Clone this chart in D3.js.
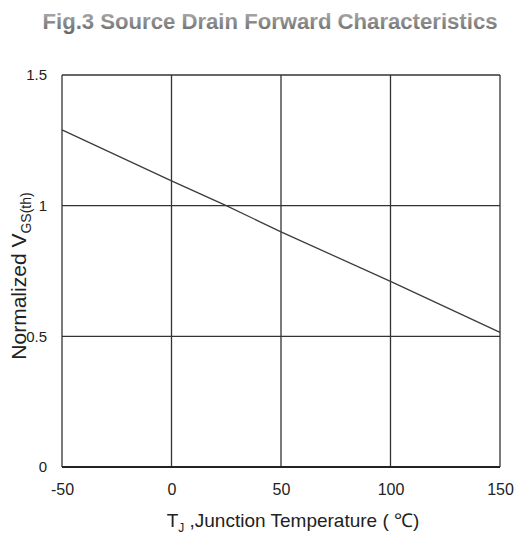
<!DOCTYPE html>
<html lang="en">
<head>
<meta charset="UTF-8">
<title>Fig.3 Source Drain Forward Characteristics</title>
<style>
  body { margin: 0; background: #fff; }
  svg { display: block; font-family: "Liberation Sans", Arial, sans-serif; }
  .grid line { stroke: #333; stroke-width: 1.3; }
  .tick text { fill: #222; font-size: 15px; }
  .xax .tick text { font-size: 16px; }
</style>
</head>
<body>
<svg width="514" height="534"></svg>
<script src="https://d3js.org/d3.v7.min.js"></script>
<script>
// data
var temps = [-50, 0, 25, 50, 100, 150];
var vgsNorm = [1.29, 1.095, 1.0, 0.90, 0.71, 0.515];
var xTicks = [-50, 0, 50, 100, 150];
var yTicks = [0, 0.5, 1, 1.5];

var svg = d3.select("svg"),
    margin = {top: 75, right: 14, bottom: 67, left: 62},
    width = 514 - margin.left - margin.right,
    height = 534 - margin.top - margin.bottom;

var defs = svg.append("defs");
var grad = defs.append("linearGradient")
    .attr("id", "titleGrad").attr("x1", 0).attr("y1", 0).attr("x2", 0).attr("y2", 1);
grad.append("stop").attr("offset", "0%").attr("stop-color", "#b4b4b4");
grad.append("stop").attr("offset", "100%").attr("stop-color", "#666");

svg.append("text")
    .attr("x", 270).attr("y", 29)
    .attr("text-anchor", "middle")
    .attr("textLength", 455)
    .attr("lengthAdjust", "spacingAndGlyphs")
    .style("font-family", "'Liberation Sans Narrow', 'Liberation Sans', Arial, sans-serif")
    .style("font-size", "22px")
    .style("font-weight", "bold")
    .attr("fill", "url(#titleGrad)")
    .text("Fig.3 Source Drain Forward Characteristics");

var x = d3.scaleLinear().domain([-50, 150]).range([0, width]);
var y = d3.scaleLinear().domain([0, 1.5]).range([height, 0]);

var g = svg.append("g")
    .attr("transform", "translate(" + margin.left + "," + margin.top + ")");

// grid
var grid = g.append("g").attr("class", "grid");
grid.selectAll(".vx").data(xTicks).enter().append("line")
    .attr("x1", function(d) { return x(d); }).attr("x2", function(d) { return x(d); })
    .attr("y1", 0).attr("y2", height);
grid.selectAll(".hy").data(yTicks).enter().append("line")
    .attr("y1", function(d) { return y(d); }).attr("y2", function(d) { return y(d); })
    .attr("x1", 0).attr("x2", width);

// thicker bottom edge
g.append("line")
    .attr("x1", 0).attr("x2", width)
    .attr("y1", y(0)).attr("y2", y(0))
    .attr("stroke", "#222").attr("stroke-width", 2.2);

// axes (labels only)
var xAxis = d3.axisBottom(x).tickValues(xTicks).tickSize(0).tickPadding(17)
    .tickFormat(function(d) { return String(d); });
g.append("g")
    .attr("class", "xax")
    .attr("transform", "translate(0," + height + ")")
    .call(xAxis)
    .call(function(s) { s.select(".domain").remove(); });

var yAxis = d3.axisLeft(y).tickValues(yTicks).tickSize(0).tickPadding(15)
    .tickFormat(function(d) { return String(d); });
g.append("g")
    .call(yAxis)
    .call(function(s) { s.select(".domain").remove(); });

// curve
var line = d3.line()
    .x(function(d, i) { return x(temps[i]); })
    .y(function(d) { return y(d); });
g.append("path")
    .datum(vgsNorm)
    .attr("fill", "none")
    .attr("stroke", "#3c3c3c")
    .attr("stroke-width", 1.3)
    .attr("d", line);

// axis titles
var xt = svg.append("text")
    .attr("x", 293).attr("y", 527)
    .attr("text-anchor", "middle")
    .attr("fill", "#222")
    .style("font-size", "19px");
xt.append("tspan").text("T");
xt.append("tspan").attr("dy", 5).style("font-size", "12px").text("J");
xt.append("tspan").attr("dy", -5).text(" ,Junction Temperature ( \u2103)");

var yt = svg.append("text")
    .attr("transform", "translate(26,276) rotate(-90)")
    .attr("text-anchor", "middle")
    .attr("fill", "#222")
    .style("font-size", "21px");
yt.append("tspan").text("Normalized V");
yt.append("tspan").attr("dy", 5).style("font-size", "14px").text("GS(th)");
</script>
</body>
</html>
